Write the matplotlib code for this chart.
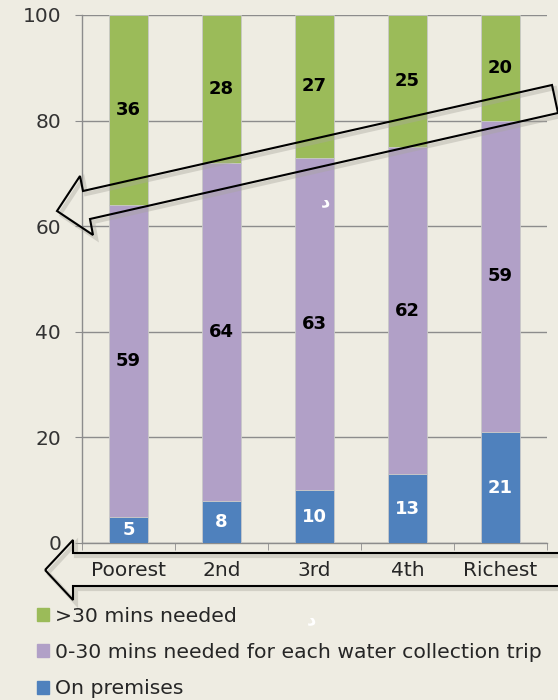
import matplotlib.pyplot as plt
import numpy as np
from matplotlib.patches import Polygon, Patch

# --------DATA--------
groups = ['Poorest', '2nd', '3rd', '4th', 'Richest']
on_premises = [5, 8, 10, 13, 21]       # на территории
within_30 = [59, 64, 63, 62, 59]       # 0-30 мин на каждый поход за водой
over_30 = [36, 28, 27, 25, 20]         # >30 мин

bg = '#EEECE2'
c_blue = '#4F81BD'
c_purple = '#B1A0C7'
c_green = '#9BBB59'
grid_c = '#8C8C8C'
W, H = 558, 700

fig = plt.figure(figsize=(W/100, H/100), dpi=100)
fig.patch.set_facecolor(bg)
ax = fig.add_axes([82/W, 1-543/H, (547-82)/W, (543-15)/H])
ax.set_facecolor(bg)

x = np.arange(len(groups))
bw = 0.41
on_premises = np.array(on_premises)
within_30 = np.array(within_30)
over_30 = np.array(over_30)

b1 = ax.bar(x, on_premises, bw, color=c_blue, edgecolor='#C8C8C8', lw=0.6, zorder=3)
b2 = ax.bar(x, within_30, bw, bottom=on_premises, color=c_purple, edgecolor='#C8C8C8', lw=0.6, zorder=3)
b3 = ax.bar(x, over_30, bw, bottom=on_premises+within_30, color=c_green, edgecolor='#C8C8C8', lw=0.6, zorder=3)

ax.bar_label(b1, labels=[str(v) for v in on_premises], label_type='center', color='white', fontsize=13, fontweight='bold', zorder=4)
ax.bar_label(b2, labels=[str(v) for v in within_30], label_type='center', color='black', fontsize=13, fontweight='bold', zorder=4)
ax.bar_label(b3, labels=[str(v) for v in over_30], label_type='center', color='black', fontsize=13, fontweight='bold', zorder=4)

ax.set_xlim(-0.5, len(groups)-0.5)
ax.set_ylim(0, 100)
ax.set_yticks([0, 20, 40, 60, 80, 100])
ax.yaxis.grid(True, color=grid_c, lw=1, zorder=0)
ax.set_axisbelow(True)
ax.tick_params(axis='y', length=5, color=grid_c, labelsize=14.5, labelcolor='#333333', pad=10)

ax.set_xticks(x)
ax.set_xticklabels(groups)
ax.set_xticks(np.arange(len(groups)+1)-0.5, minor=True)
ax.tick_params(axis='x', which='major', length=0, labelsize=14.5, labelcolor='#262626', pad=13)
ax.tick_params(axis='x', which='minor', length=5, color=grid_c, direction='out')

for s in ['top', 'right']:
    ax.spines[s].set_visible(False)
for s in ['left', 'bottom']:
    ax.spines[s].set_color(grid_c)
    ax.spines[s].set_linewidth(1)

# --------ARROWS--------
def px(pts):
    return [(px_x/W, 1-px_y/H) for px_x, px_y in pts]

diag = [(57, 211), (80, 176), (83, 191), (552, 85), (558, 113), (90, 219), (93, 235)]
horiz = [(45, 570), (73, 540), (73, 553), (562, 553), (562, 586), (73, 586), (73, 600)]
for pts in (diag, horiz):
    shadow = [(a+3, b+3) for a, b in pts]
    fig.add_artist(Polygon(px(shadow), closed=True, fill=False, ec='#A8A69E', lw=3, alpha=0.4,
                           transform=fig.transFigure, zorder=9))
    fig.add_artist(Polygon(px(pts), closed=True, fill=False, ec='black', lw=1.5,
                           transform=fig.transFigure, zorder=10))

# --------LEGEND--------
handles = [Patch(color=c_green), Patch(color=c_purple), Patch(color=c_blue)]
labels = ['>30 mins needed', '0-30 mins needed for each water collection trip', 'On premises']
fig.legend(handles, labels, loc='upper left', bbox_to_anchor=(37/W, 1-607/H), frameon=False,
           fontsize=14.7, labelcolor='#262626', handlelength=0.6, handleheight=0.6,
           handletextpad=0.3, labelspacing=0.84, borderaxespad=0, borderpad=0)

fig.text(325/W, 1-201/H, 'د', color='white', fontsize=13, fontweight='bold', ha='center', va='center')
fig.text(312/W, 1-619/H, 'د', color='white', fontsize=13, fontweight='bold', ha='center', va='center')

fig.savefig('out.png', dpi=100, facecolor=bg)
